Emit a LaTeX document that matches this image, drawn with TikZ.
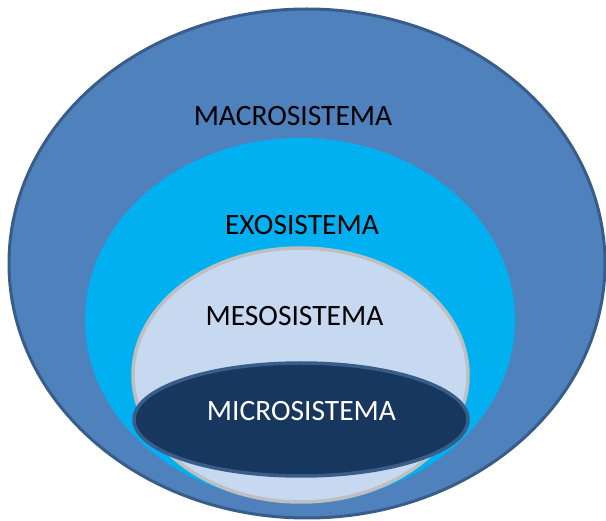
\documentclass[tikz,border=0pt]{standalone}
\usepackage{fontspec}
\setmainfont{Carlito}
\usetikzlibrary{shapes.geometric, positioning}
\usepackage{xcolor}
\definecolor{macroblue}{HTML}{4F81BD}
\definecolor{macroline}{HTML}{385D8A}
\definecolor{exocyan}{HTML}{00B0F0}
\definecolor{mesoblue}{HTML}{C6D9F1}
\definecolor{mesoline}{HTML}{BFBFBF}
\definecolor{micronavy}{HTML}{17375E}

\begin{document}
\begin{tikzpicture}[
  x=1pt, y=-1pt,
  layer/.style={ellipse, inner sep=0pt, outer sep=0pt},
  macrolayer/.style={layer, fill=macroblue, draw=macroline, line width=3pt},
  exolayer/.style={layer, fill=exocyan},
  mesolayer/.style={layer, fill=mesoblue, draw=mesoline, line width=3.5pt},
  microlayer/.style={layer, fill=micronavy, draw=macroline, line width=3.5pt},
  tag/.style={font=\fontsize{29.5}{31}\selectfont, text=black, inner sep=0pt}
]
\useasboundingbox (0,0) rectangle (606,521);

\node (macro) [macrolayer, minimum width=596pt, minimum height=509pt] at (307,263.5) {};
\node (exo) [exolayer, minimum width=430pt, minimum height=364pt] at (300,320) {};
\node (meso) [mesolayer, minimum width=335pt, minimum height=254pt] at (300.5,375) {};
\node (micro) [microlayer, minimum width=334pt, minimum height=113pt] at (301,419.5) {};

\node (macrotxt) [tag] at (293,116) {MACROSISTEMA};
\node (exotxt) [tag] at (302,225.5) {EXOSISTEMA};
\node (mesotxt) [tag] at (294.5,316.5) {MESOSISTEMA};
\node (microtxt) [tag, text=white] at (301.5,411) {MICROSISTEMA};

\end{tikzpicture}
\end{document}
